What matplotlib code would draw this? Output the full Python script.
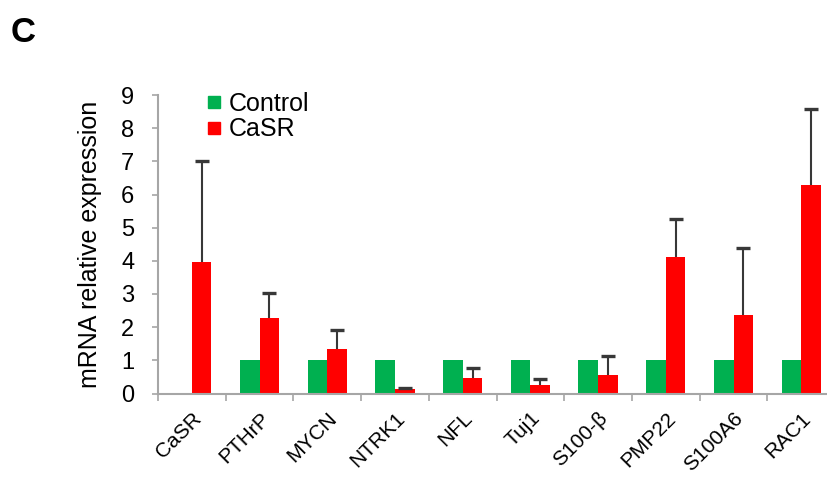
import numpy as np
import matplotlib
matplotlib.use("Agg")
from matplotlib import pyplot as plt
from matplotlib.lines import Line2D

plt.rcParams['font.family'] = ['Liberation Sans', 'DejaVu Sans']

genes = ['CaSR', 'PTHrP', 'MYCN', 'NTRK1', 'NFL', 'Tuj1', 'S100-β', 'PMP22', 'S100A6', 'RAC1']
control = [0, 1, 1, 1, 1, 1, 1, 1, 1, 1]
casr = [3.95, 2.28, 1.35, 0.15, 0.46, 0.26, 0.56, 4.12, 2.36, 6.3]
casr_err = [3.05, 0.76, 0.56, 0.03, 0.30, 0.18, 0.56, 1.14, 2.03, 2.27]

green = '#00B050'
red = '#FF0000'
axis_gray = '#A6A6A6'

fig = plt.figure(figsize=(8.27, 4.79), dpi=100)
ax = fig.add_axes([158 / 827, 1 - 393.5 / 479, 669 / 827, 298.5 / 479])

x = np.arange(len(genes))
w = 0.29
ax.bar(x - w / 2, control, w, color=green)
ax.bar(x + w / 2, casr, w, color=red)
eb = ax.errorbar(x + w / 2, casr, yerr=[np.zeros(len(casr)), casr_err], fmt='none',
                 ecolor='#383838', elinewidth=1.5, capsize=5, capthick=2.4)
# only the upper caps are wanted
eb[1][0].set_visible(False)

# right end stops just short of the last category boundary
ax.set_xlim(-0.5, len(genes) - 0.62)
ax.set_ylim(0, 9)
ax.set_yticks(range(10))
ax.tick_params(axis='y', labelsize=17, length=4, color=axis_gray, width=1.2, pad=13)

# category boundaries get the tick marks, names sit in between
ax.set_xticks(np.arange(len(genes)) - 0.5, labels=[''] * len(genes))
ax.set_xticks(x, minor=True)
ax.set_xticklabels(genes, minor=True, rotation=45, ha='right', rotation_mode='anchor', fontsize=15)
ax.tick_params(axis='x', which='major', length=5, color=axis_gray, width=1.2)
ax.tick_params(axis='x', which='minor', length=0, pad=11)

for side in ['top', 'right']:
    ax.spines[side].set_visible(False)
for side in ['left', 'bottom']:
    ax.spines[side].set_color(axis_gray)
    ax.spines[side].set_linewidth(1.5)

ax.set_ylabel('mRNA relative expression', fontsize=18, labelpad=14)

handles = [Line2D([], [], marker='s', linestyle='none', color=green, markersize=9),
           Line2D([], [], marker='s', linestyle='none', color=red, markersize=9)]
ax.legend(handles, ['Control', 'CaSR'], loc='upper left', bbox_to_anchor=(0.07, 1.01),
          frameon=False, fontsize=18, handlelength=0.7, handletextpad=0.25,
          labelspacing=0.05, borderaxespad=0, borderpad=0)

fig.text(11 / 827, 1 - 42 / 479, 'C', fontsize=25, fontweight='bold')

fig.savefig('out.png', dpi=100)
